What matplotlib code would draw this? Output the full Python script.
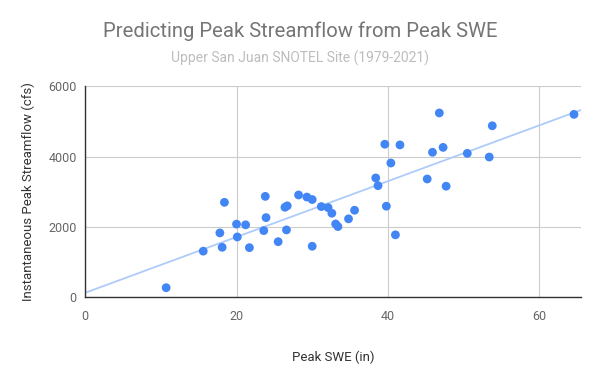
import numpy as np
import matplotlib
matplotlib.use("Agg")
import matplotlib.pyplot as plt

plt.rcParams['font.family'] = ['Roboto', 'DejaVu Sans']

# peak SWE (in) and instantaneous peak streamflow (cfs)
peak_swe = [10.7, 15.6, 18.1, 17.8, 18.4, 20.0, 20.1, 21.2, 21.7, 23.6,
            23.8, 23.9, 25.5, 26.6, 26.4, 26.7, 28.2, 30.0, 29.3, 30.0,
            31.2, 32.1, 32.6, 33.1, 33.4, 34.8, 35.6, 38.4, 38.7, 39.6,
            39.8, 40.4, 41.0, 41.6, 45.2, 45.9, 46.8, 47.3, 47.7, 50.5,
            53.4, 53.8, 64.6]
peak_flow = [270, 1310, 1420, 1830, 2700, 2080, 1715, 2060, 1410, 1895,
             2870, 2265, 1580, 1915, 2560, 2600, 2910, 1450, 2850, 2780,
             2580, 2550, 2390, 2085, 2010, 2230, 2475, 3395, 3175, 4355,
             2590, 3820, 1775, 4335, 3365, 4125, 5245, 4265, 3160, 4095,
             3990, 4880, 5205]

x_ticks = [0, 20, 40, 60]
y_ticks = [0, 2000, 4000, 6000]

fig = plt.figure(figsize=(6, 3.71), dpi=100)
ax = fig.add_axes([0.142, 0.199, 0.826, 0.568])

# linear trendline
slope, intercept = np.polyfit(peak_swe, peak_flow, 1)
xs = np.array([0, 65.5])
ax.plot(xs, slope * xs + intercept, color='#aecbfa', lw=1.3, zorder=2)

ax.scatter(peak_swe, peak_flow, s=40, color='#4285f4', edgecolors='none', zorder=3)

ax.set_xlim(0, 65.5)
ax.set_ylim(0, 6000)
ax.set_xticks(x_ticks)
ax.set_yticks(y_ticks)
ax.grid(True, color='#cccccc', lw=0.8)
ax.set_axisbelow(True)
ax.tick_params(length=0, labelsize=9, colors='#666666', pad=6)
ax.tick_params(axis='x', pad=9)
for s in ['top', 'right']:
    ax.spines[s].set_visible(False)
for s in ['left', 'bottom']:
    ax.spines[s].set_color('#333333')
    ax.spines[s].set_linewidth(1.0)

ax.set_xlabel('Peak SWE (in)', fontsize=9.5, color='#333333', labelpad=20)
ax.set_ylabel('Instantaneous Peak Streamflow (cfs)', fontsize=9.5, color='#333333', labelpad=10)

fig.text(0.5, 0.917, 'Predicting Peak Streamflow from Peak SWE', ha='center', va='center',
         fontsize=14.6, color='#757575')
fig.text(0.5, 0.842, 'Upper San Juan SNOTEL Site (1979-2021)', ha='center', va='center',
         fontsize=10, color='#bdbdbd')

fig.savefig('out.png', dpi=100)
